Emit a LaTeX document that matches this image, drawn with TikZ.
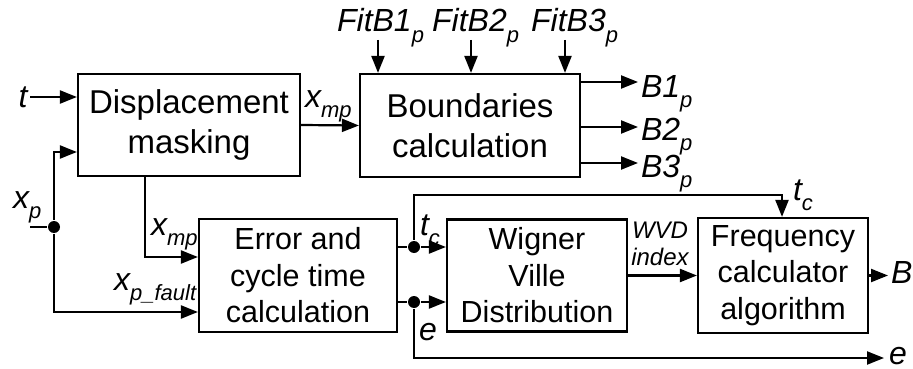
\documentclass[tikz,border=0pt]{standalone}
\usepackage{fontspec}
\setmainfont{Liberation Sans}
\usetikzlibrary{arrows.meta,calc}
% italic lowered subscript used in the signal labels
\newcommand\lsub[1]{\raisebox{-0.33em}{\fontsize{22}{22}\selectfont\itshape #1}}

\begin{document}
\begin{tikzpicture}[x=1pt,y=-1pt,line width=2.2pt,
  >={Triangle[length=17pt,width=13pt]},
  block/.style={draw,rectangle,inner sep=0pt,align=center,
    font=\fontsize{33}{40}\selectfont},
  block3/.style={block,font=\fontsize{30.5}{36.5}\selectfont},
  lbl/.style={inner sep=0pt,font=\fontsize{32}{32}\selectfont\itshape},
  small/.style={inner sep=0pt,align=center,font=\fontsize{24}{27}\selectfont\itshape},
  junction/.style={circle,fill,inner sep=0pt,minimum size=12pt}]
\useasboundingbox (0,0) rectangle (913,369);

% processing blocks
\node[block,minimum width=222pt,minimum height=102pt] (dm) at (189,125) {Displacement\\masking};
\node[block,minimum width=220pt,minimum height=103pt] (bc) at (470,125.5) {Boundaries\\calculation};
\node[block3,minimum width=198pt,minimum height=113pt] (ec) at (298,275.5) {Error and\\cycle time\\calculation};
\node[block3,minimum width=180pt,minimum height=112pt] (wv) at (537,275.5) {Wigner\\Ville\\Distribution};
\node[block3,minimum width=170pt,minimum height=115pt] (fc) at (783,275.5) {Frequency\\calculator\\algorithm};

% junctions and free ends
\node[junction] (jx) at (54,227) {};
\node[junction] (jt) at (414,247) {};
\node[junction] (je) at (414,302) {};
\coordinate (tin) at (30,97);
\coordinate (xin) at (30,227);
\coordinate (f1) at (378,40);
\coordinate (f2) at (471,40);
\coordinate (f3) at (565,40);
\coordinate (o1) at (638,82);
\coordinate (o2) at (638,127);
\coordinate (o3) at (638,163);
\coordinate (tcc) at (782,195);
\coordinate (eout) at (884,358);
\coordinate (bout) at (888,275.5);
\coordinate (dmb) at (145,176);

% connectors
\draw[->] (tin) -- (tin -| dm.west);
\draw (xin) -- (jx);
\draw[->] (jx) |- ($(dm.west)+(0,27)$);
\draw[->] (dm.east) -- (bc.west);
\foreach \f in {f1,f2,f3} \draw[->] (\f) -- (\f |- bc.north);
\foreach \o in {o1,o2,o3} \draw[->] (\o -| bc.east) -- (\o);
\draw[->] (dmb) |- ($(ec.west)+(0,-18.5)$);
\draw[->] (jx) |- ($(ec.west)+(0,36.5)$);
\draw (jt -| ec.east) -- (jt);
\draw (je -| ec.east) -- (je);
\draw[->] (jt) -- (jt -| wv.west);
\draw[->] (je) -- (je -| wv.west);
\draw[->] (jt) |- (tcc) -- (tcc |- fc.north);
\draw[->] (je) |- (eout);
\draw[->] (wv.east) -- (fc.west);
\draw[->] (fc.east) -- (bout);

% signal labels
\node[lbl] (lt) at (23,97) {t};
\node[lbl,anchor=base west] (lxp) at (12,208) {x\lsub{p}};
\node[lbl,anchor=base west] (lxmp1) at (304,107) {x\lsub{mp}};
\node[lbl,anchor=base west] (lxmp2) at (150,235) {x\lsub{mp}};
\node[lbl,anchor=base west] (lxpf) at (113,290) {x\lsub{p\_fault}};
\node[lbl,anchor=base west] (lf1) at (336,32) {FitB1\lsub{p}};
\node[lbl,anchor=base west] (lf2) at (431,32) {FitB2\lsub{p}};
\node[lbl,anchor=base west] (lf3) at (530,32) {FitB3\lsub{p}};
\node[lbl,anchor=base west] (lb1) at (640,97) {B1\lsub{p}};
\node[lbl,anchor=base west] (lb2) at (640,140) {B2\lsub{p}};
\node[lbl,anchor=base west] (lb3) at (640,177) {B3\lsub{p}};
\node[lbl,anchor=base west] (ltc1) at (419,235) {t\lsub{c}};
\node[lbl,anchor=base west] (le1) at (418,340) {e};
\node[lbl,anchor=base west] (ltc2) at (792,200) {t\lsub{c}};
\node[small,anchor=north] (lwvd) at (660,221) {WVD\\index};
\node[lbl,anchor=base west] (lb) at (890,283) {B};
\node[lbl,anchor=base west] (le2) at (888,364) {e};
\end{tikzpicture}
\end{document}
